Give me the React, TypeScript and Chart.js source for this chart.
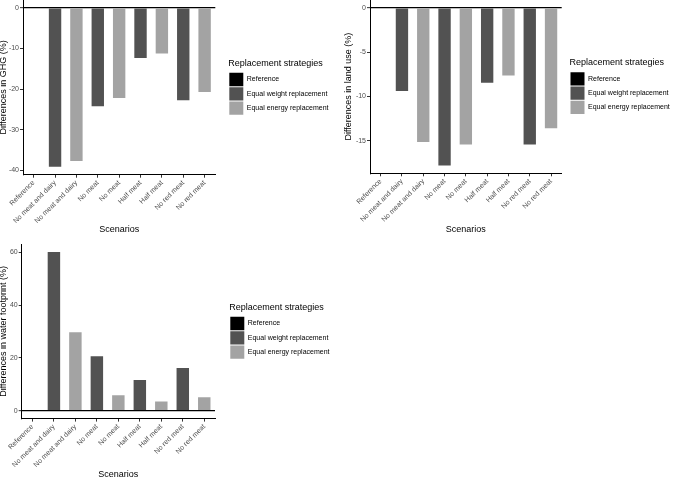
import React, { useEffect, useRef } from 'react';
import { Chart, registerables } from 'chart.js';

Chart.register(...registerables);

// ---- data ----
const scenarios = [
  'Reference',
  'No meat and dairy',
  'No meat and dairy',
  'No meat',
  'No meat',
  'Half meat',
  'Half meat',
  'No red meat',
  'No red meat',
];
const strategies = ['Reference', 'Equal weight replacement', 'Equal energy replacement'];
const barStrategy = [0, 1, 2, 1, 2, 1, 2, 1, 2];

const ghgValues = [0, -39.1, -37.7, -24.2, -22.2, -12.3, -11.2, -22.7, -20.7];
const landUseValues = [0, -9.4, -15.15, -17.8, -15.45, -8.45, -7.65, -15.45, -13.6];
const waterValues = [0, 60.1, 29.7, 20.6, 5.8, 11.6, 3.5, 16.2, 5.1];

const ghgTicks = [0, -10, -20, -30, -40];
const landUseTicks = [0, -5, -10, -15];
const waterTicks = [0, 20, 40, 60];

// ---- styles ----
const strategyColors = ['#000000', '#525252', '#a3a3a3'];
const FONT = "'Liberation Sans', Arial, Helvetica, sans-serif";
const LEGEND_WIDTH = 110;

type PanelLayout = {
  left: number;
  top: number;
  width: number;
  height: number;
  padLeft: number;
  padTop: number;
  padRight: number;
  yWidth: number;
  xHeight: number;
  gap: number;
  xTitlePad: number;
};

const layoutGHG: PanelLayout = {
  left: 0, top: 0, width: 338, height: 240,
  padLeft: -2, padTop: 0, padRight: -0.3, yWidth: 25, xHeight: 65.3, gap: 13, xTitlePad: 4.6,
};
const layoutLand: PanelLayout = {
  left: 338, top: 0, width: 339, height: 240,
  padLeft: 5, padTop: 0, padRight: -2.5, yWidth: 27, xHeight: 66.7, gap: 7.8, xTitlePad: 4.6,
};
const layoutWater: PanelLayout = {
  left: 0, top: 240, width: 338, height: 238,
  padLeft: -1.4, padTop: 4.1, padRight: -1.3, yWidth: 23.1, xHeight: 59.4, gap: 14.3, xTitlePad: -1.7,
};

function expandRange(values: number[]) {
  const lo = Math.min(...values);
  const hi = Math.max(...values);
  const d = (hi - lo) * 0.05;
  return { min: lo - d, max: hi + d };
}

function Panel({ values, ticks, yTitle, layout }: { values: number[]; ticks: number[]; yTitle: string; layout: PanelLayout }) {
  const ref = useRef<HTMLCanvasElement | null>(null);

  useEffect(() => {
    if (!ref.current) return;
    const range = expandRange(values);
    const datasets = strategies.map((s, k) => ({
      label: s,
      data: values.map((v, i) => (barStrategy[i] === k ? v : null)),
      backgroundColor: strategyColors[k],
      borderWidth: 0,
      grouped: false,
      barPercentage: 0.58,
      categoryPercentage: 1,
      yAxisID: 'y',
      xAxisID: 'x',
    }));

    const chart = new Chart(ref.current, {
      type: 'bar',
      data: { labels: scenarios, datasets },
      options: {
        responsive: false,
        animation: false,
        events: [],
        layout: {
          autoPadding: false,
          padding: { left: layout.padLeft, top: layout.padTop, right: layout.padRight, bottom: 0 },
        },
        plugins: {
          tooltip: { enabled: false },
          legend: {
            display: true,
            position: 'right',
            align: 'center',
            fullSize: false,
            maxWidth: LEGEND_WIDTH,
            labels: {
              boxWidth: 14,
              boxHeight: 13.3,
              padding: 1,
              color: '#000',
              font: { size: 7, family: FONT },
            },
            title: {
              display: true,
              text: 'Replacement strategies',
              position: 'start',
              color: '#000',
              font: { size: 9, family: FONT },
              padding: { top: 0, bottom: 2.1 },
            },
          },
        },
        scales: {
          x: {
            type: 'category',
            offset: true,
            grid: {
              display: true,
              offset: false,
              drawOnChartArea: false,
              drawTicks: true,
              tickLength: 3,
              color: '#333',
              tickColor: '#333',
            },
            border: { display: true, color: '#000', width: 1 },
            ticks: {
              autoSkip: false,
              minRotation: 45,
              maxRotation: 45,
              padding: 1,
              color: '#4d4d4d',
              font: { size: 7, family: FONT },
            },
            title: {
              display: true,
              text: 'Scenarios',
              color: '#000',
              font: { size: 9, family: FONT },
              padding: { top: 0, bottom: layout.xTitlePad },
            },
            afterFit: (s: any) => {
              s.height = layout.xHeight;
              s.paddingLeft = 0;
              s.paddingRight = 0;
            },
          },
          y: {
            type: 'linear',
            position: 'left',
            min: range.min,
            max: range.max,
            z: 1,
            afterBuildTicks: (s: any) => {
              s.ticks = ticks.map((v) => ({ value: v }));
            },
            grid: {
              display: true,
              drawOnChartArea: true,
              drawTicks: true,
              tickLength: 3,
              color: (c: any) => (c.tick && c.tick.value === 0 ? '#000' : 'rgba(0,0,0,0)'),
              lineWidth: (c: any) => (c.tick && c.tick.value === 0 ? 1.3 : 1),
              tickColor: '#333',
              tickWidth: 1,
            },
            border: { display: true, color: '#000', width: 1 },
            ticks: {
              padding: 1,
              color: '#4d4d4d',
              font: { size: 7, family: FONT },
            },
            title: {
              display: true,
              text: yTitle,
              color: '#000',
              font: { size: 9, family: FONT },
              padding: { top: 0, bottom: 0 },
            },
            afterFit: (s: any) => {
              s.width = layout.yWidth;
              s.paddingTop = 0;
              s.paddingBottom = 0;
            },
          },
          gap: {
            type: 'linear',
            axis: 'y',
            position: 'right',
            display: true,
            grid: { display: false, drawTicks: false },
            border: { display: false },
            ticks: { display: false },
            title: { display: false },
            afterFit: (s: any) => {
              s.width = layout.gap;
              s.paddingTop = 0;
              s.paddingBottom = 0;
            },
          },
        },
      } as any,
    });
    return () => chart.destroy();
  }, [values, ticks, yTitle, layout]);

  return (
    <div
      style={{
        position: 'absolute',
        left: layout.left,
        top: layout.top,
        width: layout.width,
        height: layout.height,
      }}
    >
      <canvas ref={ref} width={layout.width} height={layout.height} style={{ display: 'block' }} />
    </div>
  );
}

export default function App() {
  return (
    <div
      style={{
        position: 'fixed',
        left: 0,
        top: 0,
        width: 677,
        height: 478,
        background: '#ffffff',
        overflow: 'hidden',
      }}
    >
      <Panel values={ghgValues} ticks={ghgTicks} yTitle="Differences in GHG (%)" layout={layoutGHG} />
      <Panel values={landUseValues} ticks={landUseTicks} yTitle="Differences in land use (%)" layout={layoutLand} />
      <Panel values={waterValues} ticks={waterTicks} yTitle="Differences in water footprint (%)" layout={layoutWater} />
    </div>
  );
}
